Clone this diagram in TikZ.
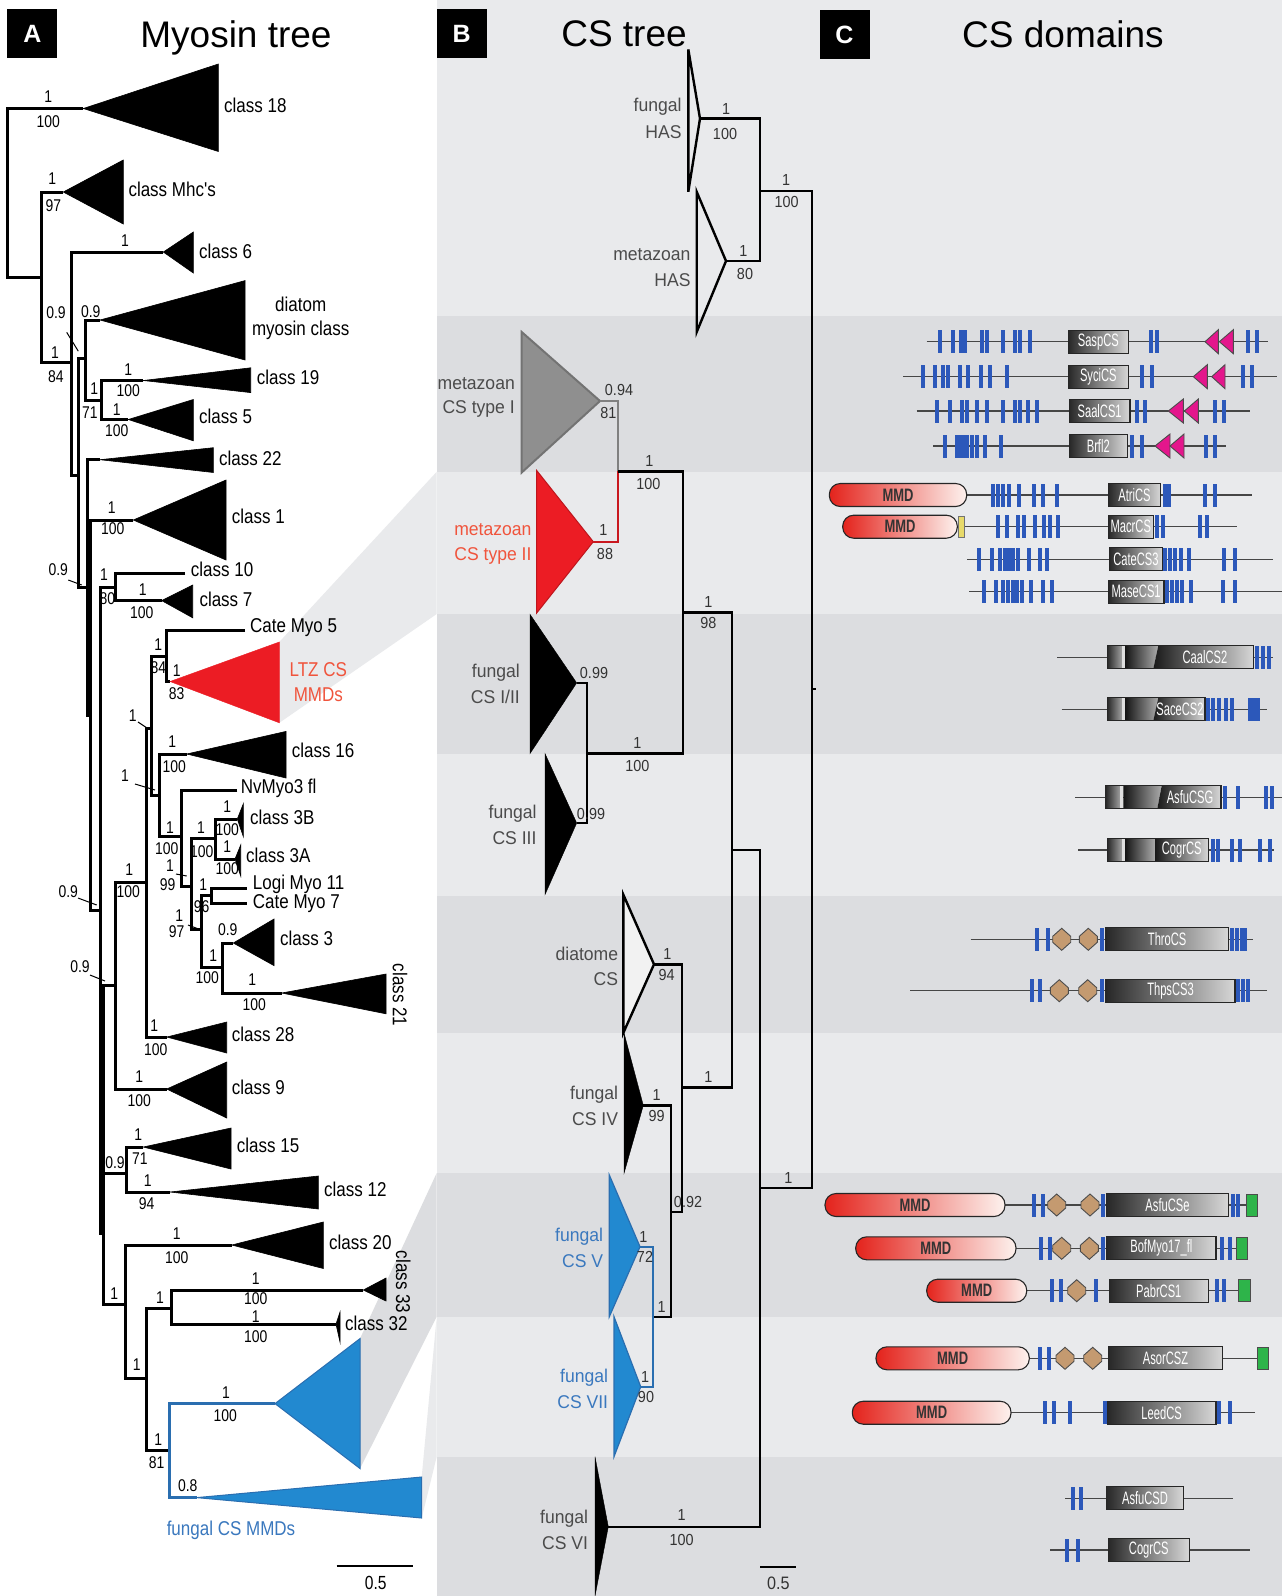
\documentclass[tikz,border=0pt]{standalone}
\usepackage{fontspec}
\setmainfont{Liberation Sans}
\newfontfamily\lblAf[FakeStretch=0.85]{Liberation Sans}
\newfontfamily\numAf[FakeStretch=0.82]{Liberation Sans}
\newfontfamily\lblBf[FakeStretch=0.95]{Liberation Sans}
\newfontfamily\numBf[FakeStretch=0.9]{Liberation Sans}
\newfontfamily\domf[FakeStretch=0.62]{Liberation Sans}
\newfontfamily\mmdf[FakeStretch=0.72]{Liberation Sans}

\definecolor{bgL}{RGB}{233,234,236}
\definecolor{bgD}{RGB}{220,221,224}
\definecolor{ltzred}{RGB}{236,28,36}
\definecolor{ltztxt}{RGB}{240,84,60}
\definecolor{fblue}{RGB}{34,137,208}
\definecolor{fbluedk}{RGB}{42,110,176}
\definecolor{fbluetxt}{RGB}{58,120,190}
\definecolor{txtB}{RGB}{75,75,75}
\definecolor{typeIgray}{RGB}{143,143,143}
\definecolor{barblue}{RGB}{44,88,186}
\definecolor{boxdark}{RGB}{40,40,40}
\definecolor{boxlight}{RGB}{215,215,215}
\definecolor{mmdred}{RGB}{228,35,28}
\definecolor{mmdpale}{RGB}{253,242,238}
\definecolor{magenta2}{RGB}{228,22,140}
\definecolor{tan2}{RGB}{196,154,112}
\definecolor{green2}{RGB}{46,180,74}
\definecolor{yellow2}{RGB}{232,218,106}
\definecolor{dline}{RGB}{70,70,70}

\newcounter{lb}
% tree helpers: vertical at X joining child Y1 (ends at X1) and child Y2 (ends at X2)
\newcommand\tfork[6][]{\draw[#1] (#4,#3) -- (#2,#3) -- (#2,#5) -- (#6,#5);}
\newcommand\tattach[4][]{\draw[#1] (#2,#3) -- (#4,#3);}
\newcommand\tclade[6][]{\filldraw[#1] (#2,#3) -- (#4,#5) -- (#4,#6) -- cycle;}
% text helpers
\newcommand\tA[3]{\stepcounter{lb}\node[labA] (t\thelb) at (#1,#2) {#3};}
\newcommand\nA[3]{\stepcounter{lb}\node[numA] (t\thelb) at (#1,#2) {#3};}
\newcommand\tB[3]{\stepcounter{lb}\node[labB] (t\thelb) at (#1,#2) {#3};}
\newcommand\nB[3]{\stepcounter{lb}\node[numB] (t\thelb) at (#1,#2) {#3};}
% domain helpers
\newcommand\dline[3]{\draw[domline] (#1,#3) -- (#2,#3);}
\newcommand\dbars[2]{\foreach \q in {#2} {\fill[barblue] (\q-2,#1-11.5) rectangle (\q+2,#1+11.5);}}
\newcommand\dbox[5]{%
  \shade[left color=boxdark, right color=boxlight] (#1,#3-11.5) rectangle (#2,#3+11.5);
  \draw[boxedge] (#1,#3-11.5) rectangle (#2,#3+11.5);
  \node[boxtxt] (#4) at ({(#1+#2)/2},#3) {#5};}
\newcommand\dfbox[8]{%
  \shade[left color=boxdark, right color=gray!75] (#1,#3-11.5) rectangle (#1+14.4,#3+11.5);
  \fill[gray!25] (#1+14.4,#3-11.5) rectangle (#1+17.7,#3+11.5);
  \shade[left color=black!92, right color=gray!65] (#1+17.7,#3-11.5) -- (#4,#3-11.5) -- (#5,#3+11.5) -- (#1+17.7,#3+11.5) -- cycle;
  \shade[left color=black!90, right color=boxlight] (#4,#3-11.5) -- (#2,#3-11.5) -- (#2,#3+11.5) -- (#5,#3+11.5) -- cycle;
  \draw[boxedge] (#1,#3-11.5) rectangle (#2,#3+11.5);
  \node[boxtxt] (#7) at (#6,#3) {#8};}
\newcommand\dmmd[4]{%
  \shade[left color=mmdred, right color=mmdpale, rounded corners=11] (#1,#3-11.5) rectangle (#2,#3+11.5);
  \draw[boxedge, rounded corners=11] (#1,#3-11.5) rectangle (#2,#3+11.5);
  \node[mmdtxt] (#4) at ({(#1+#2)/2},#3) {MMD};}
\newcommand\dhex[2]{\filldraw[hexs] (#1-9,#2-3) -- (#1,#2-11) -- (#1+9,#2-3) -- (#1+9,#2+3) -- (#1,#2+11) -- (#1-9,#2+3) -- cycle;}
\newcommand\dtri[3]{\filldraw[magtri] (#1,#3) -- (#2,#3-12) -- (#2,#3+12) -- cycle;}
\newcommand\dgreen[3]{\filldraw[greenb] (#1,#3-11) rectangle (#2,#3+11);}

\begin{document}
\begin{tikzpicture}[x=1pt,y=-1pt,
  treeA/.style={line width=3pt, line join=miter},
  treeB/.style={line width=2.4pt, line join=miter},
  cladeA/.style={fill=black, draw=black, line width=0.6pt},
  labA/.style={font=\lblAf\fontsize{20}{22}\selectfont, inner sep=0pt, anchor=west},
  numA/.style={font=\numAf\fontsize{17}{18}\selectfont, inner sep=0pt},
  labB/.style={font=\lblBf\fontsize{18.5}{20}\selectfont, inner sep=0pt, anchor=east, text=txtB},
  numB/.style={font=\numBf\fontsize{16}{17}\selectfont, inner sep=0pt, text=black!80},
  panel/.style={fill=black, text=white, minimum width=50pt, minimum height=49pt, inner sep=0pt, font=\bfseries\fontsize{25}{26}\selectfont},
  ptitle/.style={font=\fontsize{37}{40}\selectfont, inner sep=0pt, anchor=base},
  pointer/.style={line width=1pt},
  domline/.style={line width=1.3pt, draw=dline},
  boxedge/.style={draw=black!85, line width=1.1pt},
  boxtxt/.style={font=\domf\fontsize{18}{19}\selectfont, text=white, inner sep=0pt},
  mmdtxt/.style={font=\mmdf\bfseries\fontsize{18}{19}\selectfont, text=black!80, inner sep=0pt},
  hexs/.style={fill=tan2, draw=black!70, line width=0.9pt},
  magtri/.style={fill=magenta2, draw=black!70, line width=0.9pt},
  greenb/.style={fill=green2, draw=black!70, line width=0.9pt}]

\useasboundingbox (0,0) rectangle (1282,1596);

% ---------- backgrounds ----------
\fill[white] (0,0) rectangle (1282,1596);
\fill[bgL] (436.7,0) rectangle (1282,1596);
\foreach \a/\b in {316/471.8, 614/753.6, 895.7/1032.9, 1173/1316.7, 1456.7/1596}
  \fill[bgD] (436.7,\a) rectangle (1282,\b);
% projections from the myosin clades to the CS groups
\fill[bgL] (279.3,642) -- (436.7,471.8) -- (436.7,614) -- (279.3,722.8) -- cycle;
\fill[bgD] (360,1338.6) -- (436.7,1173) -- (436.7,1316.7) -- (360,1468.5) -- cycle;
\fill[bgL] (421.7,1477) -- (436.7,1316.7) -- (436.7,1456.7) -- (421.7,1518) -- cycle;

% ---------- panel headers ----------
\node[panel] (pA) at (32.3,33.6) {A};
\node[panel] (pB) at (461.7,33.6) {B};
\node[panel] (pC) at (844.5,34.6) {C};
\node[ptitle] (hA) at (236,47.5) {Myosin tree};
\node[ptitle] (hB) at (624,46) {CS tree};
\node[ptitle] (hC) at (1063,47) {CS domains};

% ========== A: myosin tree ==========
\tfork[treeA]{7.3}{108.5}{83.3}{277}{41.7}
\tfork[treeA]{41.7}{192}{63.3}{362}{71.7}
\tfork[treeA]{71.7}{252}{163.3}{475}{78}
\tfork[treeA]{78}{358}{85.5}{587}{87}
\tfork[treeA]{85.5}{320}{100}{400}{101.7}
\tfork[treeA]{101.7}{380.5}{143.3}{419.5}{128.3}
\tfork[treeA]{87}{459.7}{100}{715}{90}
\tfork[treeA]{90}{520}{133.3}{910}{100}
\tfork[treeA]{100}{587}{115}{1233}{103}
\tfork[treeA]{115}{573}{185}{600.6}{161.7}
\tfork[treeA]{103}{985}{115}{1304}{125}
\tattach[treeA]{103}{1173}{126.7}
\tfork[treeA]{115}{882}{146.7}{1089}{166.7}
\tfork[treeA]{146.7}{728}{151.7}{1037}{166.7}
\tfork[treeA]{151.7}{656}{166.7}{795}{159.3}
\tfork[treeA]{166.7}{630}{245}{681.5}{170}
\tfork[treeA]{159.3}{754}{186.7}{836.5}{181.7}
\tfork[treeA]{181.7}{790}{237.3}{886}{191.7}
\tfork[treeA]{191.7}{838}{215}{929.5}{201.7}
\tfork[treeA]{215}{819}{237.3}{859}{235}
\tfork[treeA]{201.7}{895.5}{211.7}{967}{222.7}
\tfork[treeA]{211.7}{888}{246.7}{903.6}{246.7}
\tfork[treeA]{222.7}{943}{233.3}{993}{281.7}
\tfork[treeA]{126.7}{1147}{143.3}{1192}{170}
\tfork[treeA]{125}{1245}{231.7}{1378}{146.7}
\tfork[treeA]{146.7}{1308}{171.7}{1450}{169.3}
\tfork[treeA]{171.7}{1290}{363.3}{1324}{336}
\tfork[treeA,fbluedk]{169.3}{1403.6}{275}{1497.6}{196.7}

\tclade[cladeA]{83.3}{108.5}{218.3}{64}{151.5}
\tclade[cladeA]{63.3}{192}{123.3}{160}{224}
\tclade[cladeA]{163.3}{252}{193.3}{232}{273}
\tclade[cladeA]{100}{320}{245}{280.6}{360}
\tclade[cladeA]{143.3}{380.5}{250.7}{367.8}{392.6}
\tclade[cladeA]{128.3}{419.5}{193.3}{399.5}{440.8}
\tclade[cladeA]{100}{459.7}{213.3}{447.7}{472.5}
\tclade[cladeA]{133.3}{520}{226}{480}{560}
\tclade[cladeA]{161.7}{600.6}{192.7}{585}{617.8}
\tclade[fill=ltzred,draw=ltzred]{170}{681.5}{279.3}{642}{722.8}
\tclade[cladeA]{186.7}{754}{286}{731.4}{778}
\tclade[cladeA]{237.3}{819}{243.3}{803.8}{836.5}
\tclade[cladeA]{235}{859}{240.7}{845}{876}
\tclade[cladeA]{233.3}{943}{274}{919}{965.6}
\tclade[cladeA]{281.7}{993}{386}{974}{1013.8}
\tclade[cladeA]{166.7}{1037}{226.7}{1022}{1053}
\tclade[cladeA]{166.7}{1089}{226.7}{1062}{1118}
\tclade[cladeA]{143.3}{1147}{231}{1128}{1169}
\tclade[cladeA]{170}{1192}{318.3}{1176}{1209}
\tclade[cladeA]{231.7}{1245}{323.3}{1222}{1268.5}
\tclade[cladeA]{363.3}{1290}{386}{1278}{1301}
\tclade[cladeA]{336}{1324}{340}{1312}{1342}
\tclade[fill=fblue,draw=fbluedk,line width=1pt]{275}{1403.6}{360}{1338.6}{1468.5}
\tclade[fill=fblue,draw=fbluedk,line width=1pt]{196.7}{1497.6}{421.7}{1477}{1518}

% clade names
\tA{224}{105}{class 18}
\tA{128.3}{189}{class Mhc's}
\tA{199}{251}{class 6}
\node[numA,font=\lblAf\fontsize{20}{22}\selectfont] (tdia1) at (300.7,304.8) {diatom};
\node[numA,font=\lblAf\fontsize{20}{22}\selectfont] (tdia2) at (300.7,330.6) {myosin class};
\tA{256.7}{377}{class 19}
\tA{199}{416.7}{class 5}
\tA{219}{458}{class 22}
\tA{231.7}{516.5}{class 1}
\tA{190.7}{569.6}{class 10}
\tA{199.3}{599}{class 7}
\tA{250}{628}{Cate Myo 5}
\node[numA,font=\lblAf\fontsize{20}{22}\selectfont,text=ltztxt] (tltz1) at (318.3,669.5) {LTZ CS};
\node[numA,font=\lblAf\fontsize{20}{22}\selectfont,text=ltztxt] (tltz2) at (318.3,694.6) {MMDs};
\tA{291.7}{750.4}{class 16}
\tA{240.7}{788}{NvMyo3 fl}
\tA{250}{817.5}{class 3B}
\tA{246}{855.4}{class 3A}
\tA{252.7}{884.7}{Logi Myo 11}
\tA{252.7}{903.6}{Cate Myo 7}
\tA{280}{938}{class 3}
\node[labA,anchor=center,rotate=-90] (tc21) at (400,995) {class 21};
\tA{231.7}{1034.5}{class 28}
\tA{231.7}{1087}{class 9}
\tA{236.7}{1145.5}{class 15}
\tA{324}{1189}{class 12}
\tA{329}{1242}{class 20}
\node[labA,anchor=center,rotate=-90] (tc33) at (403.3,1282) {class 33};
\tA{345}{1323}{class 32}
\node[numA,font=\lblAf\fontsize{20}{22}\selectfont,text=fbluetxt] (tfmmd) at (231,1530) {fungal CS MMDs};

% support values
\nA{48.3}{96.4}{1}\nA{48.3}{122}{100}
\nA{52.3}{179}{1}\nA{53.3}{205.6}{97}
\nA{125}{241}{1}
\nA{56}{313}{0.9}\draw[pointer] (66.7,332.3) -- (78.3,351.2);
\nA{55}{353}{1}\nA{56}{377}{84}
\nA{90.7}{311.6}{0.9}
\nA{94.3}{389}{1}\nA{90}{413}{71}
\nA{128.3}{370}{1}\nA{128.3}{390.8}{100}
\nA{116.7}{409.8}{1}\nA{116.7}{430.4}{100}
\nA{111.7}{508}{1}\nA{112.7}{528.6}{100}
\nA{58.3}{569.6}{0.9}\draw[pointer] (68.3,580) -- (81.7,585);
\nA{104}{574.8}{1}\nA{107.3}{599}{80}
\nA{142.7}{590}{1}\nA{141.7}{612.6}{100}
\nA{158.3}{645}{1}\nA{158.3}{667.7}{84}
\nA{176.7}{671}{1}\nA{176.7}{693.6}{83}
\nA{132.7}{716}{1}\draw[pointer] (138,722) -- (147,728);
\nA{125}{776}{1}\draw[pointer] (135,784) -- (155,790);
\nA{172.3}{741.8}{1}\nA{174.3}{767}{100}
\nA{170}{828}{1}\nA{166.7}{848.5}{100}
\nA{201}{828}{1}\nA{201.7}{852}{100}
\nA{227.3}{807}{1}\nA{227.3}{829.6}{100}
\nA{227.3}{846.8}{1}\nA{227.3}{869}{100}
\nA{170}{865.7}{1}\nA{167.7}{884.7}{99}\draw[pointer] (176,874) -- (186.7,876);
\nA{203.3}{884.7}{1}\nA{201.7}{907}{96}
\nA{179.3}{915.7}{1}\nA{176.7}{932}{97}\draw[pointer] (188,925) -- (200,929.5);
\nA{227.7}{929.5}{0.9}
\nA{213.3}{956}{1}\nA{207.3}{977.7}{100}
\nA{252.3}{979.4}{1}\nA{254.3}{1005}{100}
\nA{68.3}{891.6}{0.9}\draw[pointer] (78,898) -- (96.7,905);
\nA{129.3}{870}{1}\nA{128.3}{892}{100}
\nA{80}{967}{0.9}\draw[pointer] (90,975) -- (105,981);
\nA{154.3}{1026}{1}\nA{155.7}{1050}{100}
\nA{139.3}{1077}{1}\nA{139.3}{1101}{100}
\nA{138.3}{1135}{1}\nA{140}{1159}{71}
\nA{115}{1162.6}{0.9}
\nA{147.7}{1181}{1}\nA{146.7}{1203.6}{94}
\nA{176.7}{1234}{1}\nA{176.7}{1257.6}{100}
\nA{255.7}{1279}{1}\nA{255.7}{1299}{100}
\nA{255.7}{1317}{1}\nA{255.7}{1337}{100}
\nA{160}{1297.6}{1}
\nA{114.3}{1294}{1}
\nA{136.7}{1365}{1}
\nA{158.3}{1439.5}{1}\nA{156.7}{1463}{81}
\nA{226}{1393}{1}\nA{225.3}{1415.6}{100}
\nA{187.7}{1485.6}{0.8}
% scale bar
\coordinate (sA1) at (336.7,1566);
\coordinate (sA2) at (412.7,1566);
\draw[line width=2.6pt] (sA1) -- (sA2);
\node[numA,font=\numAf\fontsize{19}{20}\selectfont] (tsA) at (375.7,1583) {0.5};

% ========== B: CS tree ==========
\draw[treeB] (688.3,49.4) -- (700,118.6) -- (688.3,191.8) -- cycle;
\draw[treeB] (696.7,191.8) -- (726,261) -- (696.7,332) -- cycle;
\filldraw[fill=typeIgray, draw=black!55, line width=2pt] (521.7,332) -- (600,401) -- (521.7,472.5) -- cycle;
\filldraw[fill=ltzred, draw=ltzred!80!black, line width=1pt] (536.7,470.5) -- (593.3,541.7) -- (536.7,613) -- cycle;
\filldraw[fill=black, draw=black] (530,614.3) -- (576.7,682.9) -- (530,753.6) -- cycle;
\filldraw[fill=black, draw=black] (545,753.6) -- (576.7,823) -- (545,894.6) -- cycle;
\filldraw[fill=black!5, draw=black, line width=2.4pt] (623.3,894.6) -- (654,964.3) -- (623.3,1032.9) -- cycle;
\filldraw[fill=black, draw=black] (624,1032.9) -- (643.3,1105.4) -- (624,1173.3) -- cycle;
\filldraw[fill=fblue, draw=fbluedk, line width=1.2pt] (609.3,1175) -- (640,1246.7) -- (609.3,1316.7) -- cycle;
\filldraw[fill=fblue, draw=fbluedk, line width=1.2pt] (614,1316.7) -- (640.7,1386.7) -- (614,1456.7) -- cycle;
\filldraw[fill=black, draw=black] (595,1456.7) -- (608.3,1526.7) -- (595,1596) -- cycle;

\tfork[treeB]{760}{118.6}{700}{261}{726}
\tfork[treeB]{811.7}{191}{760}{1188}{760}
\draw[line width=2pt] (811.7,689) -- (816,689);
\draw[treeB,draw=black!50] (600,401) -- (617.7,401) -- (617.7,471.3);
\draw[treeB,draw=ltzred!85!black,line width=2pt] (617.7,471.3) -- (617.7,541.7) -- (593.3,541.7);
\draw[treeB] (617.7,471.3) -- (682.7,471.3) -- (682.7,753.6) -- (586.7,753.6);
\tfork[treeB]{586.7}{682.9}{576.7}{823}{576.7}
\draw[treeB] (682.7,612.5) -- (731.7,612.5) -- (731.7,1087.5) -- (681.7,1087.5);
\draw[treeB] (731.7,850) -- (760,850) -- (760,1526.7) -- (608.3,1526.7);
\tfork[treeB]{681.7}{964.3}{654}{1211.7}{670.7}
\tfork[treeB]{670.7}{1105.4}{643.3}{1316.7}{652.7}
\tfork[treeB,fbluedk,line width=2pt]{652.7}{1246.7}{640}{1386.7}{640.7}

\tB{681.7}{106.8}{fungal}\tB{681.7}{132.5}{HAS}
\tB{690.7}{255}{metazoan}\tB{690.7}{280}{HAS}
\tB{515}{383.5}{metazoan}\tB{515}{408.5}{CS type I}
\node[labB,text=ltztxt] (tm2a) at (531.7,530) {metazoan};
\node[labB,text=ltztxt] (tm2b) at (531.7,555.5) {CS type II};
\tB{520}{673}{fungal}\tB{520}{696.4}{CS I/II}
\tB{536.7}{814}{fungal}\tB{536.7}{838.6}{CS III}
\tB{618.3}{953.6}{diatome}\tB{618.3}{979.3}{CS}
\tB{618.3}{1094.6}{fungal}\tB{618.3}{1119.6}{CS IV}
\node[labB,text=fbluetxt] (tf5a) at (603.3,1236.7) {fungal};
\node[labB,text=fbluetxt] (tf5b) at (603.3,1260.7) {CS V};
\node[labB,text=fbluetxt] (tf7a) at (608.3,1377.3) {fungal};
\node[labB,text=fbluetxt] (tf7b) at (608.3,1401.7) {CS VII};
\tB{588.3}{1518.3}{fungal}\tB{588.3}{1543.3}{CS VI}

\nB{726}{108.7}{1}\nB{725}{133.6}{100}
\nB{743.3}{251}{1}\nB{745}{273.6}{80}
\nB{786}{180}{1}\nB{786.7}{201.7}{100}
\nB{619}{389.5}{0.94}\nB{608.3}{413}{81}
\nB{603.3}{530}{1}\nB{605}{553.6}{88}
\nB{649.3}{460.6}{1}\nB{648.3}{484.4}{100}
\nB{708.3}{601.8}{1}\nB{708.3}{623.2}{98}
\nB{594}{673}{0.99}
\nB{591}{814.3}{0.99}
\nB{637.3}{742.9}{1}\nB{637.3}{766}{100}
\nB{667.3}{953.6}{1}\nB{666.7}{975}{94}
\nB{708.3}{1076.8}{1}
\nB{656.7}{1094.6}{1}\nB{656.7}{1116}{99}
\nB{688}{1201.7}{0.92}
\nB{643.3}{1237.3}{1}\nB{645}{1257.3}{72}
\nB{661.7}{1306.7}{1}
\nB{645}{1377.3}{1}\nB{646}{1397.3}{90}
\nB{788.3}{1178.3}{1}
\nB{681.7}{1515}{1}\nB{681.7}{1540}{100}
\coordinate (sB1) at (760,1566.7);
\coordinate (sB2) at (796,1566.7);
\draw[line width=2.4pt] (sB1) -- (sB2);
\node[numB,font=\numBf\fontsize{18}{19}\selectfont] (tsB) at (778.3,1583.3) {0.5};

% ========== C: CS domain architectures ==========
% metazoan CS type I
\dline{926.7}{1268.3}{341.7}
\dbars{341.7}{940,953.3,961,965,981.7,986.7,1003.3,1015,1020,1030,1151,1156.7,1248.3,1256.7}
\dbox{1068.3}{1128.3}{341.7}{dSasp}{SaspCS}
\dtri{1205}{1218.3}{341.7}\dtri{1219.3}{1233.3}{341.7}

\dline{903.3}{1276.7}{376.7}
\dbars{376.7}{923.3,935,943.3,948.3,960,968.3,981,990,1006.7,1141.7,1151.7,1243.3,1251.7}
\dbox{1068.3}{1128.3}{376.7}{dSyci}{SyciCS}
\dtri{1193.3}{1207.3}{376.7}\dtri{1211.7}{1225}{376.7}

\dline{916.7}{1250}{411}
\dbars{411}{937.3,950,961.7,966.7,976.7,986.7,1003.3,1015,1020,1028.3,1036.7,1136.7,1145,1215,1224}
\dbox{1069.3}{1130}{411}{dSaal}{SaalCS1}
\dtri{1168.3}{1183.3}{411}\dtri{1184.3}{1198.3}{411}

\dline{933.3}{1226}{446}
\dbars{446}{945,956.7,960,963.3,966.7,971.7,976.7,985,1000.7,1131.7,1141.7,1206,1215}
\dbox{1069.3}{1127.3}{446}{dBrfl}{Brfl2}
\dtri{1155}{1170}{446}\dtri{1170}{1184}{446}

% metazoan CS type II
\dline{966.7}{1251.7}{495}
\dbars{495}{992.7,998.3,1003.3,1009.3,1019.3,1034,1043.3,1057.3,1205,1215}
\fill[barblue] (1163.3,483.5) rectangle (1170.7,506.5);
\dbox{1108.3}{1160.7}{495}{dAtri}{AtriCS}
\dmmd{829.3}{966.7}{495}{mAtri}

\dline{964}{1237.3}{526.7}
\dbars{526.7}{998.3,1007.3,1018.3,1024,1035,1044,1050,1058.3,1156.7,1163.3,1200,1207.3}
\dbox{1108.3}{1153.3}{526.7}{dMacr}{MacrCS}
\dmmd{842.7}{957.3}{526.7}{mMacr}
\filldraw[fill=yellow2, draw=black!55, line width=0.8pt] (958.3,516) rectangle (964,537.4);

\dline{967.3}{1273.3}{559.3}
\dbars{559.3}{979.3,991.7,1000,1005,1009.3,1013.3,1017.7,1029.3,1040,1046.7,1165,1170,1175,1180.7,1189.3,1224.3,1235}
\dbox{1109.3}{1162.7}{559.3}{dCate}{CateCS3}

\dline{969.3}{1282}{591.7}
\dbars{591.7}{984,996,1003.3,1008.3,1012.7,1017.3,1021.7,1030.7,1043.3,1051.7,1166.7,1171.7,1176.7,1181.7,1190.7,1223.3,1235}
\dbox{1108.3}{1164}{591.7}{dMase}{MaseCS1}

% fungal CS I/II and III
\dline{1057.3}{1272.7}{657.3}
\dfbox{1107.3}{1253.3}{657.3}{1158.3}{1153.3}{1205}{dCaal}{CaalCS2}
\dbars{657.3}{1257,1263.3,1269.3}

\dline{1061.7}{1266.7}{709.3}
\dfbox{1107.3}{1205}{709.3}{1158.3}{1153.3}{1180}{dSace}{SaceCS2}
\dbars{709.3}{1207.7,1212.7,1219.3,1226,1231.7}
\fill[barblue] (1248.3,697.8) rectangle (1260,720.8);

\dline{1075}{1282}{797.3}
\dfbox{1105.7}{1221}{797.3}{1161.7}{1157.3}{1190}{dAsfuG}{AsfuCSG}
\dbars{797.3}{1225,1238.3,1266,1271.7}

\dline{1078.3}{1274}{850}
\dfbox{1107.3}{1208.3}{850}{1155}{1155}{1181.7}{dCogr1}{CogrCS}
\dbars{850}{1212.7,1218.3,1231.7,1240,1260,1270}

% diatome CS
\dline{970.7}{1253.3}{939.3}
\dbars{939.3}{1037.3,1048.3,1101.7,1231.7,1236.7,1241.7,1245}
\dhex{1061.7}{939.3}\dhex{1088.3}{939.3}
\dbox{1106}{1228.3}{939.3}{dThro}{ThroCS}

\dline{910}{1266.7}{990.7}
\dbars{990.7}{1031.7,1040,1101.7,1238.3,1243.3,1248.3}
\dhex{1059.3}{990.7}\dhex{1087.7}{990.7}
\dbox{1106}{1235}{990.7}{dThps}{ThpsCS3}

% fungal CS V
\dline{1005}{1258.3}{1205}
\dbars{1205}{1034,1042.7,1102.7,1233.3,1238.3}
\dhex{1056.7}{1205}\dhex{1090}{1205}
\dbox{1106.7}{1228.3}{1205}{dAsfuE}{AsfuCSe}
\dgreen{1246}{1257.3}{1205}
\dmmd{825}{1005}{1205}{mAsfuE}

\dline{1016}{1248.3}{1248.3}
\dbars{1248.3}{1040.7,1050,1103.3,1221.7,1230}
\dhex{1061.7}{1248.3}\dhex{1089.3}{1248.3}
\dbox{1106.7}{1216}{1248.3}{dBof}{BofMyo17\_fl}
\dgreen{1236}{1247.3}{1248.3}
\dmmd{855.7}{1016}{1248.3}{mBof}

\dline{1026.7}{1250}{1290.7}
\dbars{1290.7}{1051.7,1060.7,1096,1216.7,1224}
\dhex{1076.7}{1290.7}
\dbox{1109.3}{1208.3}{1290.7}{dPabr}{PabrCS1}
\dgreen{1238.3}{1250}{1290.7}
\dmmd{926.7}{1026.7}{1290.7}{mPabr}

% fungal CS VII
\dline{1029.3}{1269.3}{1358.3}
\dbars{1358.3}{1040,1049.3}
\dhex{1065}{1358.3}\dhex{1092.7}{1358.3}
\dbox{1108.3}{1222.7}{1358.3}{dAsor}{AsorCSZ}
\dgreen{1257.3}{1268.7}{1358.3}
\dmmd{876}{1029.3}{1358.3}{mAsor}

\dline{1011}{1255}{1412.7}
\dbars{1412.7}{1045,1054,1070,1105,1219.3,1230}
\dbox{1107.3}{1216}{1412.7}{dLeed}{LeedCS}
\dmmd{852.3}{1011}{1412.7}{mLeed}

% fungal CS VI
\dline{1065}{1233.3}{1498.3}
\dbars{1498.3}{1072.7,1081}
\dbox{1106.7}{1183.3}{1498.3}{dAsfuD}{AsfuCSD}

\dline{1050}{1250}{1550}
\dbars{1550}{1067.3,1078.3}
\dbox{1108.3}{1189.3}{1550}{dCogr2}{CogrCS}

\end{tikzpicture}
\end{document}
